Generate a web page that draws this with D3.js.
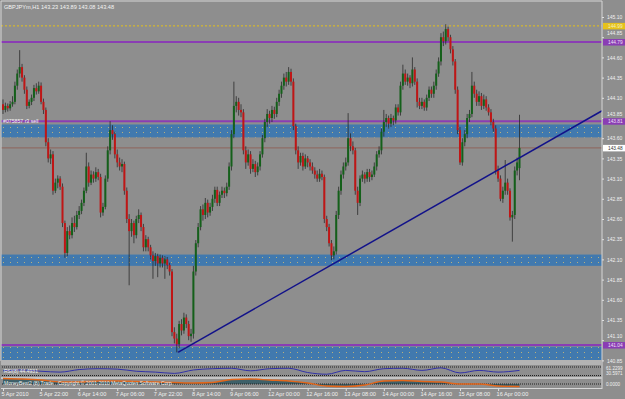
<!DOCTYPE html>
<html>
<head>
<meta charset="utf-8">
<title>GBPJPYm,H1</title>
<style>
  body { margin: 0; background: #8d8d8d; }
  svg { display: block; }
  text { font-family: "Liberation Sans", "DejaVu Sans", sans-serif; }
</style>
</head>
<body>
<svg id="chart"></svg>
<script src="https://cdn.jsdelivr.net/npm/d3@7/dist/d3.min.js"></script>
<script>
// ---- data ----
var chartTitle = "GBPJPYm,H1  143.23 143.89 143.08 143.48";
var orderText = "#075857 r3 sell";

// hourly candles [open, high, low, close]
var ohlc = [
  [144.02,144.08,143.90,143.95],[143.95,144.04,143.92,144.00],[144.00,144.03,143.93,143.97],[143.97,144.06,143.94,144.02],
  [144.02,144.12,143.99,144.05],[144.05,144.30,144.02,144.25],[144.25,144.45,144.20,144.40],[144.40,144.69,144.35,144.48],
  [144.48,144.52,144.30,144.35],[144.35,144.38,144.15,144.20],[144.20,144.24,143.96,144.00],[144.00,144.08,143.97,144.05],
  [144.05,144.14,144.01,144.10],[144.10,144.26,144.06,144.22],[144.22,144.28,144.14,144.18],[144.18,144.30,144.15,144.25],
  [144.25,144.29,144.02,144.05],[144.05,144.09,143.90,143.95],[143.95,143.98,143.50,143.55],[143.55,143.60,143.30,143.35],
  [143.35,143.46,143.28,143.40],[143.40,143.44,142.90,142.95],[142.95,143.10,142.92,143.05],[143.05,143.14,142.98,143.10],
  [143.10,143.13,142.96,143.00],[143.00,143.04,142.50,142.55],[142.55,142.58,142.12,142.18],[142.18,142.50,142.14,142.45],
  [142.45,142.52,142.35,142.40],[142.40,142.62,142.36,142.55],[142.55,142.64,142.44,142.50],[142.50,142.70,142.47,142.65],
  [142.65,142.76,142.60,142.70],[142.70,142.84,142.66,142.80],[142.80,142.99,142.76,142.95],[142.95,143.42,142.92,143.25],
  [143.25,143.30,143.00,143.05],[143.05,143.20,143.02,143.15],[143.15,143.19,143.05,143.10],[143.10,143.24,143.06,143.18],
  [143.18,143.22,143.08,143.12],[143.12,143.16,142.62,142.68],[142.68,142.80,142.64,142.75],[142.75,143.14,142.72,143.10],
  [143.10,143.50,143.06,143.45],[143.45,143.81,143.40,143.70],[143.70,143.76,143.58,143.65],[143.65,143.68,143.35,143.40],
  [143.40,143.46,143.24,143.30],[143.30,143.36,143.20,143.25],[143.25,143.34,143.18,143.28],[143.28,143.31,142.90,142.95],
  [142.95,142.99,142.55,142.60],[142.60,142.66,141.78,142.45],[142.45,142.60,142.38,142.55],[142.55,142.58,142.30,142.40],
  [142.40,142.64,142.36,142.60],[142.60,142.72,142.55,142.65],[142.65,142.68,142.45,142.50],[142.50,142.54,142.20,142.25],
  [142.25,142.40,142.20,142.35],[142.35,142.38,142.20,142.25],[142.25,142.28,142.10,142.15],[142.15,142.20,141.86,142.08],
  [142.08,142.18,142.02,142.14],[142.14,142.17,141.88,142.05],[142.05,142.16,142.00,142.12],[142.12,142.15,142.00,142.05],
  [142.05,142.14,141.86,142.10],[142.10,142.13,141.98,142.03],[142.03,142.06,141.90,141.95],[141.95,141.98,141.15,141.20],
  [141.20,141.26,141.06,141.12],[141.12,141.18,140.95,141.05],[141.05,141.34,141.00,141.30],[141.30,141.36,141.16,141.22],
  [141.22,141.44,141.18,141.38],[141.38,141.42,141.25,141.30],[141.30,141.34,141.10,141.15],[141.15,141.24,141.08,141.18],
  [141.18,142.02,141.12,141.95],[141.95,142.34,141.90,142.30],[142.30,142.55,142.25,142.50],[142.50,142.76,142.46,142.72],
  [142.72,142.78,142.58,142.65],[142.65,142.86,142.60,142.80],[142.80,142.84,142.62,142.68],[142.68,142.80,142.64,142.75],
  [142.75,142.90,142.70,142.85],[142.85,143.00,142.80,142.96],[142.96,143.00,142.76,142.80],[142.80,142.94,142.76,142.90],
  [142.90,143.00,142.86,142.95],[142.95,142.99,142.86,142.92],[142.92,143.05,142.88,143.00],[143.00,143.30,142.96,143.25],
  [143.25,143.70,143.20,143.65],[143.65,144.30,143.60,144.00],[144.00,144.12,143.92,144.05],[144.05,144.10,143.88,143.95],
  [143.95,144.02,143.86,143.92],[143.92,143.96,143.40,143.45],[143.45,143.50,143.22,143.30],[143.30,143.46,143.26,143.40],
  [143.40,143.44,143.16,143.22],[143.22,143.34,143.18,143.28],[143.28,143.32,143.12,143.18],[143.18,143.30,143.14,143.25],
  [143.25,143.44,143.20,143.40],[143.40,143.64,143.36,143.60],[143.60,143.84,143.55,143.80],[143.80,143.96,143.74,143.90],
  [143.90,143.94,143.78,143.85],[143.85,144.00,143.80,143.95],[143.95,143.99,143.84,143.90],[143.90,144.10,143.86,144.05],
  [144.05,144.20,144.00,144.15],[144.15,144.30,144.10,144.25],[144.25,144.40,144.20,144.35],[144.35,144.42,144.24,144.30],
  [144.30,144.48,144.26,144.42],[144.42,144.46,144.25,144.30],[144.30,144.34,143.70,143.75],[143.75,143.78,143.40,143.45],
  [143.45,143.50,143.22,143.30],[143.30,143.42,143.26,143.38],[143.38,143.42,143.20,143.25],[143.25,143.40,143.22,143.35],
  [143.35,143.38,143.24,143.30],[143.30,143.34,143.20,143.25],[143.25,143.30,143.16,143.20],[143.20,143.24,143.10,143.15],
  [143.15,143.20,143.06,143.10],[143.10,143.22,143.06,143.16],[143.16,143.20,143.08,143.12],[143.12,143.15,142.55,142.60],
  [142.60,142.64,142.45,142.50],[142.50,142.54,142.26,142.30],[142.30,142.34,142.09,142.15],[142.15,142.26,142.10,142.20],
  [142.20,142.70,142.16,142.65],[142.65,143.00,142.60,142.95],[142.95,143.20,142.90,143.15],[143.15,143.30,143.10,143.25],
  [143.25,143.36,143.20,143.30],[143.30,143.91,143.26,143.60],[143.60,143.66,143.44,143.50],[143.50,143.56,143.40,143.45],
  [143.45,143.48,142.90,142.95],[142.95,143.00,142.65,142.80],[142.80,143.14,142.76,143.10],[143.10,143.20,143.06,143.15],
  [143.15,143.18,143.04,143.10],[143.10,143.22,143.06,143.18],[143.18,143.22,143.06,143.12],[143.12,143.20,143.08,143.15],
  [143.15,143.30,143.12,143.25],[143.25,143.44,143.20,143.40],[143.40,143.50,143.36,143.45],[143.45,143.72,143.40,143.68],
  [143.68,143.95,143.62,143.80],[143.80,143.90,143.74,143.85],[143.85,143.88,143.72,143.78],[143.78,143.90,143.74,143.85],
  [143.85,143.88,143.76,143.82],[143.82,144.02,143.78,143.98],[143.98,144.02,143.88,143.92],[143.92,144.30,143.88,144.25],
  [144.25,144.51,144.20,144.40],[144.40,144.45,144.26,144.30],[144.30,144.40,144.25,144.35],[144.35,144.38,144.22,144.28],
  [144.28,144.60,144.24,144.45],[144.45,144.48,144.26,144.30],[144.30,144.34,143.98,144.05],[144.05,144.10,143.96,144.00],
  [144.00,144.10,143.96,144.05],[144.05,144.08,143.94,143.98],[143.98,144.14,143.94,144.10],[144.10,144.24,144.06,144.20],
  [144.20,144.24,144.10,144.15],[144.15,144.30,144.10,144.25],[144.25,144.45,144.20,144.40],[144.40,144.60,144.36,144.55],
  [144.55,144.90,144.50,144.85],[144.85,144.92,144.74,144.80],[144.80,145.01,144.76,144.95],[144.95,144.98,144.80,144.85],
  [144.85,144.88,144.65,144.70],[144.70,144.74,144.50,144.55],[144.55,144.58,144.15,144.20],[144.20,144.24,143.65,143.70],
  [143.70,143.74,143.27,143.30],[143.30,143.60,143.26,143.55],[143.55,143.70,143.50,143.65],[143.65,143.90,143.60,143.85],
  [143.85,143.95,143.80,143.90],[143.90,144.42,143.86,144.25],[144.25,144.30,144.10,144.15],[144.15,144.20,144.00,144.05],
  [144.05,144.18,144.00,144.12],[144.12,144.16,143.95,144.00],[144.00,144.14,143.96,144.08],[144.08,144.12,143.94,143.98],
  [143.98,144.02,143.88,143.92],[143.92,143.96,143.76,143.80],[143.80,143.84,143.68,143.72],[143.72,143.76,143.15,143.20],
  [143.20,143.26,143.06,143.10],[143.10,143.14,142.82,142.85],[142.85,143.00,142.80,142.95],[142.95,143.33,142.90,143.05],
  [143.05,143.10,142.90,142.95],[142.95,142.98,142.58,142.62],[142.62,142.70,142.32,142.65],[142.65,143.25,142.60,143.20],
  [143.20,143.36,143.14,143.30],[143.23,143.89,143.08,143.48]
];

var timeLabels = ["5 Apr 2010", "5 Apr 22:00", "6 Apr 14:00", "7 Apr 06:00", "7 Apr 22:00", "8 Apr 14:00",
  "9 Apr 06:00", "12 Apr 00:00", "12 Apr 16:00", "13 Apr 08:00", "14 Apr 00:00", "14 Apr 16:00",
  "15 Apr 08:00", "16 Apr 00:00"];
var timeLabelBars = [0, 16, 32, 48, 64, 80, 96, 112, 128, 144, 160, 176, 192, 208];

var priceTicks = [145.10, 144.85, 144.60, 144.35, 144.10, 143.85, 143.60, 143.35, 143.10,
  142.85, 142.60, 142.35, 142.10, 141.85, 141.60, 141.35, 141.10, 140.85];

// supply / demand zones [top, bottom]
var zones = [[143.77, 143.61], [142.16, 142.02], [141.02, 140.80]];
var purpleLevels = [144.79, 143.81, 141.04];
var purpleLabels = ["144.79", "143.81", "141.04"];
var alertLevel = 144.99, alertLabel = "144.99";
var bidPrice = 143.48, bidLabel = "143.48";
// trend line [bar, price] anchor points
var trendPoints = [[73.5, 140.95], [251.7, 143.94]];

// lower windows
var rsiTitle = "RSI(8) 44.4931";
var rsiBars = [0, 8, 16, 24, 32, 40, 48, 56, 64, 72, 80, 88, 96, 104, 112, 120, 128, 136, 144, 152, 160, 168, 176, 184, 192, 200, 208, 217];
var rsiValues = [52, 56, 50, 46, 58, 62, 60, 50, 46, 40, 56, 62, 64, 52, 62, 64, 44, 36, 54, 48, 62, 64, 54, 66, 42, 54, 46, 54];
var rsiAxisLabels = ["61.2299", "30.5971"];
var oscTitle = "MoneyBest2 (8) Trade";
var copyrightText = "Copyright \u00a9 2001-2010 MetaQuotes Software Corp.";
var oscValues = [1.1, 1.0, 0.8, 0.4, 0.4, 0.6, 0.6, 0.5, 0.4, 0.3, 0.2, 0.3, 0.9, 1.0, 0.8, 0.6, 0.2, -0.4, -0.5, -0.2, 0.6, 0.7, 0.5, 0.4, 0.0, 0.0, -0.4, -0.5];
var oscAxisLabel = "0.0000";

// ---- layout ----
var W = 625, H = 399;
var plotL = 1, plotR = 602, plotT = 1, plotB = 360;

var svg = d3.select("#chart").attr("width", W).attr("height", H);

var x = d3.scaleLinear().domain([0, 217]).range([3, 519.5]);
var y = d3.scaleLinear().domain([140.85, 145.10]).range([360.4, 17]);
var yRsi = d3.scaleLinear().domain([30, 70]).range([375.5, 367]);
var yOsc = d3.scaleLinear().domain([-1, 1]).range([389, 379]);

svg.append("rect").attr("width", W).attr("height", H).attr("fill", "#8e8e8e");

var defs = svg.append("defs");
var pat = defs.append("pattern").attr("id", "zoneDots").attr("patternUnits", "userSpaceOnUse")
  .attr("width", 7).attr("height", 5);
pat.append("rect").attr("width", 7).attr("height", 5).attr("fill", "#4179ae");
pat.append("rect").attr("x", 3).attr("y", 2).attr("width", 1).attr("height", 1).attr("fill", "#b8b07c");
defs.append("clipPath").attr("id", "mainClip").append("rect")
  .attr("x", plotL).attr("y", plotT).attr("width", plotR - plotL).attr("height", plotB - plotT);

var main = svg.append("g").attr("clip-path", "url(#mainClip)");

// zones
main.selectAll("rect.zone").data(zones).enter().append("rect")
  .attr("class", "zone")
  .attr("x", plotL).attr("width", plotR - plotL)
  .attr("y", function(d) { return y(d[0]); })
  .attr("height", function(d) { return y(d[1]) - y(d[0]); })
  .attr("fill", "url(#zoneDots)");

// level lines
main.append("line").attr("x1", plotL).attr("x2", plotR)
  .attr("y1", y(alertLevel)).attr("y2", y(alertLevel))
  .attr("stroke", "#e6c21a").attr("stroke-dasharray", "2,2");
main.selectAll("line.purple").data(purpleLevels).enter().append("line")
  .attr("class", "purple")
  .attr("x1", plotL).attr("x2", plotR)
  .attr("y1", function(d) { return y(d); }).attr("y2", function(d) { return y(d); })
  .attr("stroke", "#8a3db4").attr("stroke-width", 2);
main.append("line").attr("x1", plotL).attr("x2", plotR)
  .attr("y1", y(bidPrice)).attr("y2", y(bidPrice))
  .attr("stroke", "#8e5a50").attr("stroke-width", 1).attr("opacity", 0.8);

// candles
var candle = main.selectAll("g.candle").data(ohlc).enter().append("g").attr("class", "candle");
candle.append("rect")
  .attr("x", function(d, i) { return x(i) - 0.5; })
  .attr("width", 1)
  .attr("y", function(d) { return y(d[1]); })
  .attr("height", function(d) { return y(d[2]) - y(d[1]); })
  .attr("fill", "#262626").attr("opacity", 0.75);
candle.append("rect")
  .attr("x", function(d, i) { return x(i) - 1; })
  .attr("width", 2)
  .attr("y", function(d) { return y(Math.max(d[0], d[3])); })
  .attr("height", function(d) { return Math.max(1, Math.abs(y(d[0]) - y(d[3]))); })
  .attr("fill", function(d) { return d[3] >= d[0] ? "#14601a" : "#c01616"; });

// trend line
main.append("line")
  .attr("x1", x(trendPoints[0][0])).attr("y1", y(trendPoints[0][1]))
  .attr("x2", x(trendPoints[1][0])).attr("y2", y(trendPoints[1][1]))
  .attr("stroke", "#12128a").attr("stroke-width", 1.5);

svg.append("text").attr("x", 4).attr("y", 9).text(chartTitle)
  .attr("fill", "#f4f4f4").attr("font-size", 5.6);
svg.append("text").attr("x", 3).attr("y", y(purpleLevels[1]) + 2).text(orderText)
  .attr("fill", "#f4f4f4").attr("font-size", 5.2);

// frame
svg.append("path").attr("d", "M1,361V1H" + plotR + "V389")
  .attr("fill", "none").attr("stroke", "#d6d6d6");

// price axis
var yAxis = svg.append("g").attr("transform", "translate(" + plotR + ",0)")
  .call(d3.axisRight(y).tickValues(priceTicks).tickFormat(d3.format(".2f")).tickSize(2).tickPadding(3));
yAxis.select(".domain").remove();
yAxis.selectAll("line").attr("stroke", "#e0e0e0");
yAxis.selectAll("text").attr("fill", "#f0f0f0").attr("font-size", 5)
  .attr("font-family", "Liberation Sans, sans-serif");
// price boxes sit over the tick labels they cover, as on the terminal
yAxis.selectAll(".tick").filter(function(d) {
  return purpleLevels.concat([alertLevel, bidPrice]).some(function(p) { return Math.abs(y(p) - y(d)) < 6; });
}).select("text").attr("dy", "-0.45em");

function priceBox(price, label, fill, color) {
  var g = svg.append("g").attr("transform", "translate(" + (plotR + 1) + "," + y(price) + ")");
  g.append("rect").attr("x", 0).attr("y", -3).attr("width", W - plotR).attr("height", 6.5).attr("fill", fill);
  g.append("text").attr("x", 5).attr("y", 2).text(label).attr("fill", color).attr("font-size", 4.8);
}
priceBox(alertLevel, alertLabel, "#e6c21a", "#f4f0c0");
purpleLevels.forEach(function(p, i) { priceBox(p, purpleLabels[i], "#8a3db4", "#eee0f4"); });
priceBox(bidPrice, bidLabel, "#ffffff", "#333333");

// separator between windows
svg.append("rect").attr("x", 1).attr("y", 360).attr("width", plotR - 1).attr("height", 5).attr("fill", "#b3b3b3");
svg.append("rect").attr("x", 1).attr("y", 377).attr("width", plotR - 1).attr("height", 2).attr("fill", "#c6c6c6");
svg.append("line").attr("x1", 1).attr("x2", plotR).attr("y1", 388.5).attr("y2", 388.5).attr("stroke", "#d6d6d6");

// RSI window
[70, 30].forEach(function(v) {
  svg.append("line").attr("x1", 2).attr("x2", plotR).attr("y1", yRsi(v)).attr("y2", yRsi(v))
    .attr("stroke", "#202020").attr("stroke-dasharray", "1,1");
});
svg.append("path").datum(rsiValues)
  .attr("d", d3.line().x(function(d, i) { return x(rsiBars[i]); }).y(function(d) { return yRsi(d); }).curve(d3.curveMonotoneX))
  .attr("fill", "none").attr("stroke", "#3232a8").attr("stroke-width", 1);
svg.append("text").attr("x", 4).attr("y", 373).text(rsiTitle).attr("fill", "#f0f0f0").attr("font-size", 5);
rsiAxisLabels.forEach(function(t, i) {
  svg.append("text").attr("x", plotR + 4).attr("y", [369.5, 375][i]).text(t).attr("fill", "#f0f0f0").attr("font-size", 4.6);
});

// oscillator window
svg.append("path").datum(oscValues)
  .attr("d", d3.area().x(function(d, i) { return x(rsiBars[i]); }).y0(yOsc(0)).y1(function(d) { return yOsc(d); }).curve(d3.curveMonotoneX))
  .attr("fill", "#2b5560").attr("opacity", 0.8);
svg.append("line").attr("x1", 2).attr("x2", plotR).attr("y1", yOsc(0)).attr("y2", yOsc(0))
  .attr("stroke", "#202020").attr("stroke-dasharray", "1,1");
svg.append("path").datum(oscValues)
  .attr("d", d3.line().x(function(d, i) { return x(rsiBars[i]); }).y(function(d) { return yOsc(d); }).curve(d3.curveMonotoneX))
  .attr("fill", "none").attr("stroke", "#e3661a").attr("stroke-width", 1.4);
svg.append("text").attr("x", 4).attr("y", 385).text(oscTitle).attr("fill", "#f0f0f0").attr("font-size", 5);
svg.append("text").attr("x", 58).attr("y", 385).text(copyrightText).attr("fill", "#f0f0f0").attr("font-size", 5);
svg.append("text").attr("x", plotR + 4).attr("y", 386).text(oscAxisLabel).attr("fill", "#f0f0f0").attr("font-size", 4.6);

// time axis
var xAxis = svg.append("g").attr("transform", "translate(0,389)")
  .call(d3.axisBottom(x).tickValues(timeLabelBars)
    .tickFormat(function(d, i) { return timeLabels[i]; }).tickSize(2).tickPadding(1));
xAxis.select(".domain").remove();
xAxis.selectAll("line").attr("stroke", "#e0e0e0");
xAxis.selectAll("text").attr("fill", "#f0f0f0").attr("font-size", 5.6)
  .attr("text-anchor", "start").attr("dx", -2)
  .attr("font-family", "Liberation Sans, sans-serif");
</script>
</body>
</html>
